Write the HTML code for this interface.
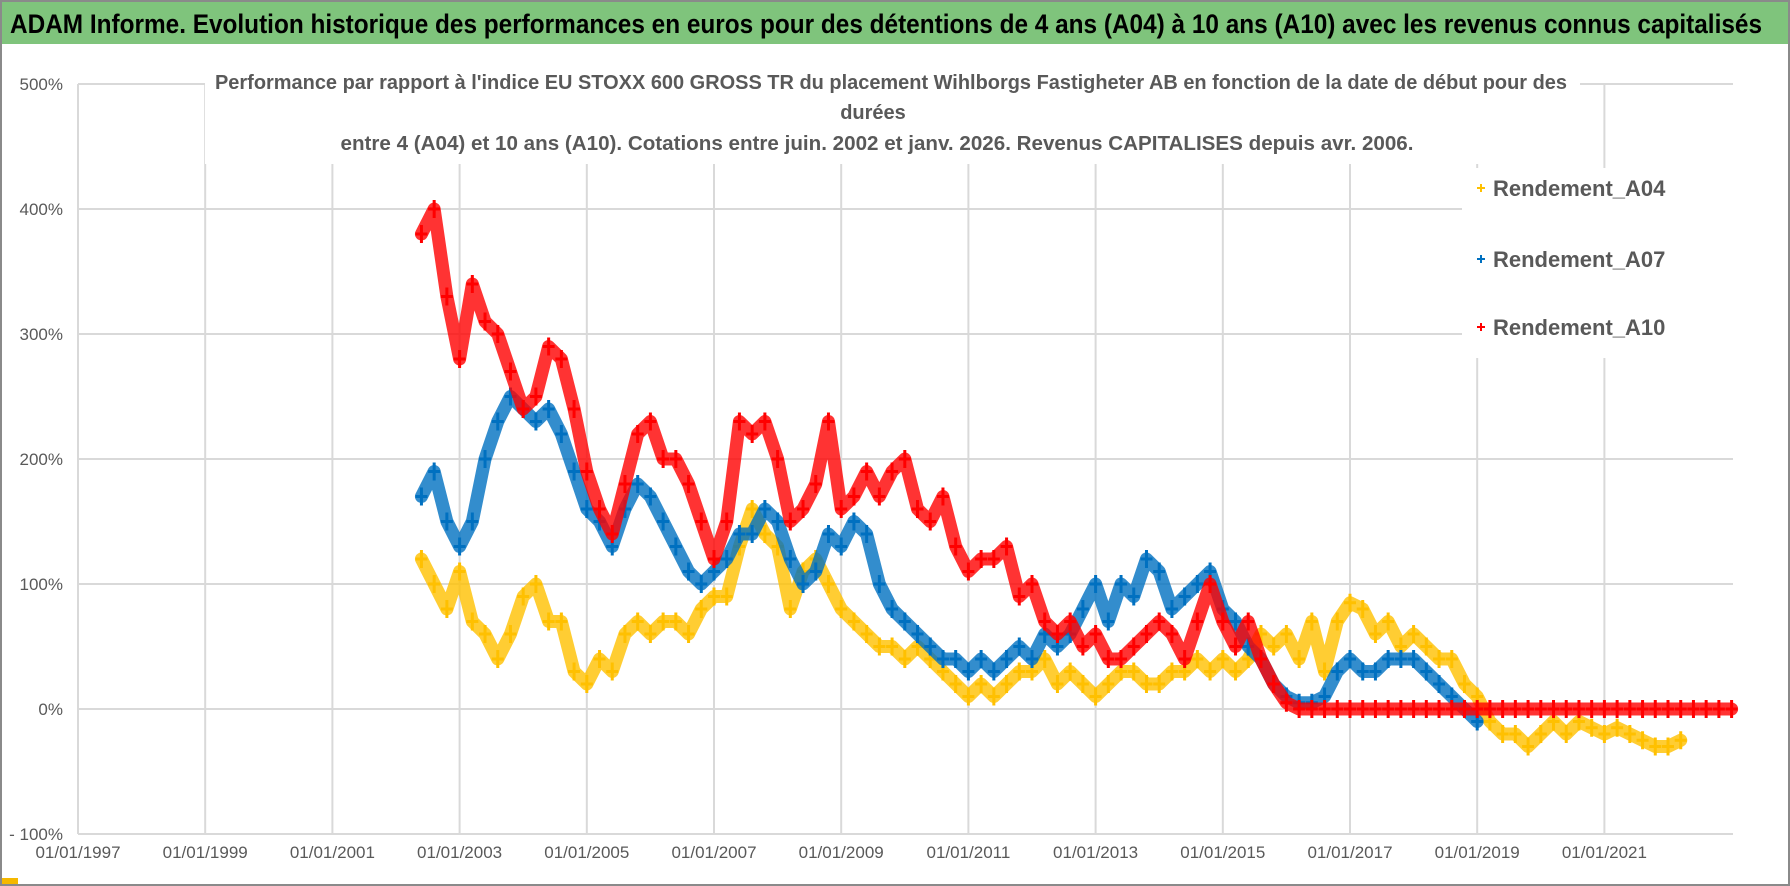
<!DOCTYPE html>
<html><head><meta charset="utf-8">
<style>
html,body{margin:0;padding:0;background:#fff;}
svg{display:block;font-family:"Liberation Sans Narrow","Liberation Sans",sans-serif;}
</style></head>
<body>
<svg id="chart" width="1790" height="886" viewBox="0 0 1790 886">
  <rect x="0" y="0" width="1790" height="886" fill="#fff"/>
  <rect x="1" y="1" width="1788" height="884" fill="none" stroke="#8a8a8a" stroke-width="2"/>
  <rect x="2" y="2" width="1786" height="42" fill="#7fc47c"/>
  <text x="10" y="33" font-size="27" font-weight="bold" fill="#000" textLength="1752" lengthAdjust="spacingAndGlyphs">ADAM Informe. Evolution historique des performances en euros pour des détentions de 4 ans (A04) à 10 ans (A10) avec les revenus connus capitalisés</text>
  <rect x="2" y="878" width="16" height="6" fill="#f5b800"/>
  <g id="grid"></g>
  <g id="ylabels"></g>
  <g id="xlabels"></g>
  <g id="series"></g>
  <rect x="205" y="64" width="1375" height="100" fill="#fff"/>
  <g fill="#595959" font-weight="bold" font-size="20" text-anchor="middle">
    <text x="891" y="89" textLength="1352" lengthAdjust="spacingAndGlyphs">Performance par rapport à l'indice EU STOXX 600 GROSS TR  du placement Wihlborgs Fastigheter AB en fonction de la date de début pour des</text>
    <text x="873" y="119">durées</text>
    <text x="877" y="150" textLength="1073" lengthAdjust="spacingAndGlyphs">entre 4 (A04) et 10 ans (A10).  Cotations entre juin. 2002 et janv. 2026. Revenus CAPITALISES depuis avr. 2006.</text>
  </g>
  <rect x="1462" y="168" width="272" height="190" fill="#fff"/>
  <g id="legend"></g>
</svg>
<script>
const yTicks = [-100, 0, 100, 200, 300, 400, 500];
const yTickLabels = ["- 100%", "0%", "100%", "200%", "300%", "400%", "500%"];
const xTicks = [1997, 1999, 2001, 2003, 2005, 2007, 2009, 2011, 2013, 2015, 2017, 2019, 2021];
const xTickLabels = ["01/01/1997","01/01/1999","01/01/2001","01/01/2003","01/01/2005","01/01/2007","01/01/2009","01/01/2011","01/01/2013","01/01/2015","01/01/2017","01/01/2019","01/01/2021"];
const seriesNames = ["Rendement_A04", "Rendement_A07", "Rendement_A10"];
const seriesStart = [2002.4, 2002.4, 2002.4];
const seriesStep = [0.2, 0.2, 0.2];
const valuesA04 = [120,100,80,110,70,60,40,60,90,100, 70,70,30,20,40,30,60,70,60,70, 70,60,80,90,90,130,160,140,130,80, 110,120,100,80,70,60,50,50,40,50, 40,30,20,10,20,10,20,30,30,40, 20,30,20,10,20,30,30,20,20,30, 30,40,30,40,30,40,60,50,60,40, 70,30,70,85,80,60,70,50,60,50, 40,40,20,10,-10,-20,-20,-30,-20,-10, -20,-10,-15,-20,-15,-20,-25,-30,-30,-25];
const valuesA07 = [170,190,150,130,150,200,230,250,240,230, 240,220,190,160,150,130,160,180,170,150, 130,110,100,110,120,140,140,160,150,120, 100,110,140,130,150,140,100,80,70,60, 50,40,40,30,40,30,40,50,40,60, 50,60,80,100,70,100,90,120,110,80, 90,100,110,80,70,50,40,20,10,5, 5,10,30,40,30,30,40,40,40,30, 20,10,0,-10];
const valuesA10 = [380,400,330,280,340,310,300,270,240,250, 290,280,240,190,160,140,180,220,230,200, 200,180,150,120,150,230,220,230,200,150, 160,180,230,160,170,190,170,190,200,160, 150,170,130,110,120,120,130,90,100,70, 60,70,50,60,40,40,50,60,70,60, 40,70,100,70,50,70,40,20,5, 0,0,0,0,0,0,0,0,0,0, 0,0,0,0,0,0,0,0,0,0, 0,0,0,0,0,0,0,0,0,0, 0,0,0,0,0];
const seriesColors = ["#ffc000", "#0070c0", "#ff0000"];

const NS = "http://www.w3.org/2000/svg";
const X0 = 78, XPY = 63.6, Y0 = 709, YP = 1.25;
const xScale = t => X0 + (t - 1997) * XPY;
const yScale = v => Y0 - v * YP;
const plotRight = 1733;

function mk(tag, attrs, parent) {
  const el = document.createElementNS(NS, tag);
  for (const k in attrs) el.setAttribute(k, attrs[k]);
  parent.appendChild(el);
  return el;
}
const grid = document.getElementById('grid');
yTicks.forEach((v, i) => {
  const l = mk('line', {x1: X0, x2: plotRight, y1: yScale(v), y2: yScale(v), stroke: '#d9d9d9', 'stroke-width': 2}, grid);
  
  
  const t = mk('text', {x: 63, y: yScale(v) + 6, 'text-anchor': 'end', 'font-size': 17, fill: '#595959'}, document.getElementById('ylabels'));
  t.textContent = yTickLabels[i];
  
  
});
xTicks.forEach((v, i) => {
  const l = mk('line', {x1: xScale(v), x2: xScale(v), y1: yScale(500), y2: yScale(-100), stroke: '#d9d9d9', 'stroke-width': 2}, grid);
  
  
  const t = mk('text', {x: xScale(v), y: 858, 'text-anchor': 'middle', 'font-size': 17, fill: '#595959'}, document.getElementById('xlabels'));
  t.textContent = xTickLabels[i];
  
  
});

const allValues = [valuesA04, valuesA07, valuesA10];
const seriesLayer = document.getElementById('series');
allValues.forEach((vals, s) => {
  const g = mk('g', {}, seriesLayer);
  
  
  const pts = vals.map((v, i) => xScale(seriesStart[s] + i * seriesStep[s]) + ',' + yScale(v)).join(' ');
  const pl = mk('polyline', {points: pts, fill: 'none', stroke: seriesColors[s], 'stroke-width': 13, 'stroke-linejoin': 'round', 'stroke-linecap': 'round', opacity: 0.8}, g);
  
  
  vals.forEach((v, i) => {
    const cx = xScale(seriesStart[s] + i * seriesStep[s]), cy = yScale(v);
    const p = mk('path', {d: `M${cx-6},${cy}H${cx+6}M${cx},${cy-9}V${cy+9}`, stroke: seriesColors[s], 'stroke-width': 3}, g);
    
    
  });
});

const legend = document.getElementById('legend');
const legendY = [188, 259, 327];
seriesNames.forEach((n, s) => {
  const g = mk('g', {}, legend);
  
  
  const m = mk('path', {d: `M1477,${legendY[s]}h8M1481,${legendY[s]-4}v8`, stroke: seriesColors[s], 'stroke-width': 2}, g);
  
  
  const t = mk('text', {x: 1493, y: legendY[s] + 8, 'font-size': 22, 'font-weight': 'bold', fill: '#595959'}, g);
  t.textContent = n;
  
  
});
</script>
</body></html>
